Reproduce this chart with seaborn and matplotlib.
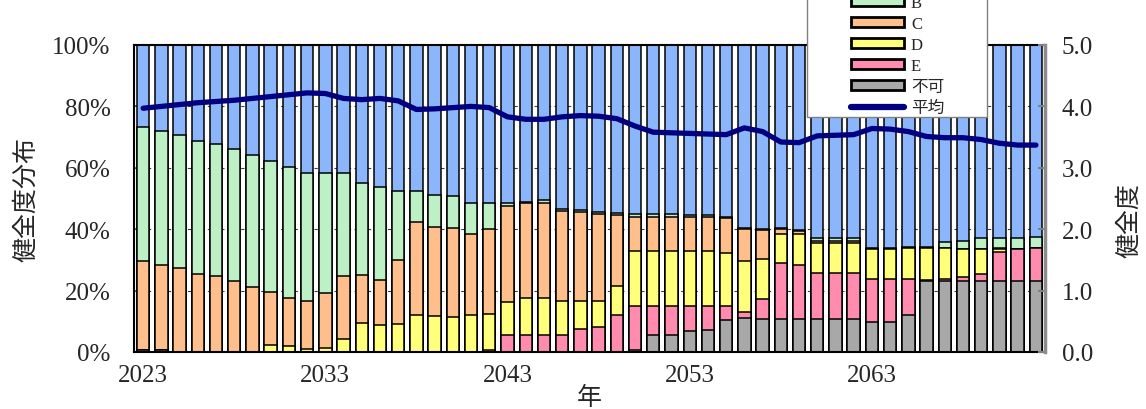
import numpy as np
import pandas as pd
import matplotlib
matplotlib.use("Agg")
import matplotlib.pyplot as plt
import seaborn as sns
from matplotlib.patches import Patch, Rectangle
from matplotlib.lines import Line2D

# ---- data: share of each soundness grade (%) per year, and the mean score ----
years = list(range(2023, 2073))

grade_a = [26.6, 28.0, 29.3, 31.3, 32.4, 34.0, 35.9, 37.8, 39.8, 41.6,
           41.6, 41.8, 44.8, 46.1, 47.5, 47.5, 48.7, 49.2, 51.4, 51.4,
           51.6, 51.3, 50.5, 53.4, 53.7, 54.4, 54.8, 55.2, 55.2, 55.2,
           55.4, 55.4, 56.0, 59.6, 60.0, 59.6, 60.3, 63.0, 63.0, 63.0,
           66.0, 66.0, 65.8, 65.8, 64.3, 63.9, 63.0, 62.8, 62.8, 62.5]
grade_b = [43.7, 43.5, 43.3, 43.3, 42.9, 42.8, 42.9, 42.6, 42.6, 41.9,
           39.1, 33.6, 30.2, 30.3, 22.5, 10.1, 10.5, 10.3, 10.3, 8.6,
           0.9, 0.3, 0.9, 0.6, 0.7, 0.6, 0.6, 0.8, 0.8, 0.8,
           0.6, 0.6, 0.5, 0.4, 0.4, 0.4, 0.4, 0.7, 0.7, 0.9,
           0.4, 0.4, 0.4, 0.4, 1.9, 2.4, 3.4, 3.4, 3.7, 3.5]
grade_c = [29.2, 28.0, 27.4, 25.4, 24.7, 23.2, 21.2, 17.3, 15.8, 15.4,
           18.1, 20.5, 15.4, 14.7, 20.8, 30.2, 29.2, 29.2, 26.3, 27.7,
           31.2, 30.8, 31.0, 29.5, 29.1, 28.5, 23.1, 11.0, 11.0, 11.0,
           11.0, 11.0, 11.3, 10.4, 9.2, 1.7, 1.0, 0.8, 0.8, 0.6,
           0.0, 0.0, 0.0, 0.0, 0.0, 0.0, 0.0, 0.4, 0.0, 0.0]
grade_d = [0.0, 0.0, 0.0, 0.0, 0.0, 0.0, 0.0, 2.3, 1.8, 1.1,
           1.2, 4.1, 9.6, 8.9, 9.2, 12.2, 11.6, 11.3, 12.0, 11.8,
           10.6, 11.9, 11.9, 10.8, 8.9, 8.5, 9.5, 18.1, 18.1, 18.1,
           18.1, 18.1, 17.3, 16.6, 13.2, 9.2, 9.8, 9.7, 9.7, 9.7,
           9.7, 9.7, 9.9, 10.2, 10.0, 9.3, 8.1, 0.9, 0.0, 0.0]
grade_e = [0.0, 0.0, 0.0, 0.0, 0.0, 0.0, 0.0, 0.0, 0.0, 0.0,
           0.0, 0.0, 0.0, 0.0, 0.0, 0.0, 0.0, 0.0, 0.0, 0.5,
           5.7, 5.7, 5.7, 5.7, 7.6, 8.0, 12.0, 14.1, 9.2, 9.2,
           8.2, 7.8, 4.4, 2.0, 6.3, 18.2, 17.6, 14.9, 14.9, 14.9,
           14.1, 14.1, 11.7, 0.6, 0.8, 1.3, 2.5, 9.5, 10.5, 11.0]
grade_fail = [0.5, 0.5, 0.0, 0.0, 0.0, 0.0, 0.0, 0.0, 0.0, 0.0,
              0.0, 0.0, 0.0, 0.0, 0.0, 0.0, 0.0, 0.0, 0.0, 0.0,
              0.0, 0.0, 0.0, 0.0, 0.0, 0.0, 0.0, 0.8, 5.7, 5.7,
              6.7, 7.1, 10.5, 11.0, 10.9, 10.9, 10.9, 10.9, 10.9, 10.9,
              9.8, 9.8, 12.2, 23.0, 23.0, 23.0, 23.0, 23.0, 23.0, 23.0]
mean_score = [3.97, 4.00, 4.03, 4.06, 4.08, 4.10, 4.13, 4.16, 4.19, 4.22,
              4.21, 4.13, 4.11, 4.13, 4.09, 3.95, 3.96, 3.98, 4.00, 3.98,
              3.83, 3.79, 3.79, 3.83, 3.85, 3.84, 3.80, 3.68, 3.58, 3.57,
              3.56, 3.55, 3.54, 3.65, 3.59, 3.42, 3.41, 3.52, 3.53, 3.54,
              3.64, 3.63, 3.59, 3.51, 3.49, 3.49, 3.46, 3.40, 3.37, 3.37]

grade_names = ["A", "B", "C", "D", "E", "不可"]
grade_values = [grade_a, grade_b, grade_c, grade_d, grade_e, grade_fail]
grade_colors = ["#8cb6fb", "#bdf0c4", "#ffbf8c", "#ffff7c", "#ff8cae", "#a8a8a8"]
mean_label = "平均"
mean_color = "#000080"

W, H = 1146, 410

sns.set_theme(style="white")
plt.rcParams["font.family"] = ["Liberation Serif", "Noto Sans CJK JP"]
plt.rcParams["axes.unicode_minus"] = False

fig = plt.figure(figsize=(W / 100, H / 100), dpi=100)
ax = fig.add_axes([134 / W, 57 / H, 911 / W, 307 / H])

# stacked bars: draw cumulative totals from the top grade down
year_labels = [str(y) for y in years]
cum = np.zeros(len(years))
cum_tops = []
for vals in reversed(grade_values):          # bottom (不可) upward
    cum = cum + np.asarray(vals, dtype=float)
    cum_tops.append(cum.copy())
cum_tops = cum_tops[::-1]                    # align with grade_names order

for name, top, color in zip(grade_names, cum_tops, grade_colors):
    df = pd.DataFrame({"year": year_labels, "share": top})
    sns.barplot(data=df, x="year", y="share", color=color, saturation=1,
                width=0.68, edgecolor="black", linewidth=1.1,
                errorbar=None, ax=ax, zorder=2)

ax.set_xlim(-0.5, len(years) - 0.5)
ax.set_ylim(0, 100)
ax.set_yticks(np.arange(0, 101, 20))
ax.set_yticklabels([f"{v}%" for v in range(0, 101, 20)])
ax.yaxis.grid(True, linestyle=(0, (3, 3)), color="#404040", linewidth=0.8, zorder=0)
ax.set_axisbelow(True)

label_pos = [0, 10, 20, 30, 40]
ax.set_xticks(label_pos)
ax.set_xticklabels([year_labels[i] for i in label_pos])
ax.set_xticks(np.arange(4.5, len(years) - 1, 5), minor=True)
ax.tick_params(axis="x", which="major", length=0, pad=9, labelsize=18)
ax.tick_params(axis="x", which="minor", direction="in", length=5,
               color="#606060", width=1)
ax.tick_params(axis="y", direction="in", length=4, pad=17, labelsize=18,
               color="#606060")

ax.set_xlabel("年", fontsize=18, family=["Noto Sans CJK JP"])
ax.xaxis.set_label_coords(0.5, -0.104)
ax.set_ylabel("健全度分布", fontsize=18, family=["Noto Sans CJK JP"])
ax.yaxis.set_label_coords(-0.104, 0.5)

for side in ["left", "top", "bottom"]:
    ax.spines[side].set_color("black")
    ax.spines[side].set_linewidth(1.5)
ax.spines["right"].set_visible(False)

# mean soundness score on the secondary axis
ax2 = ax.twinx()
sns.lineplot(x=np.arange(len(years)), y=mean_score, ax=ax2, color=mean_color,
             linewidth=3.8, solid_capstyle="round", solid_joinstyle="round",
             zorder=5)
ax2.set_ylim(0, 5)
ax2.set_yticks(np.arange(0, 5.01, 1.0))
ax2.set_yticklabels([f"{v:.1f}" for v in np.arange(0, 5.01, 1.0)])
ax2.tick_params(axis="y", direction="in", length=5, pad=12, labelsize=18,
                color="#808080", width=1.5)
ax2.set_ylabel("健全度", fontsize=18, family=["Noto Sans CJK JP"], rotation=90)
ax2.yaxis.set_label_coords(1.078, 0.43)
for side in ["left", "top", "bottom"]:
    ax2.spines[side].set_visible(False)
ax2.spines["right"].set_color("#8c8c8c")
ax2.spines["right"].set_linewidth(2.5)
ax2.set_xlim(-0.5, len(years) - 0.5)

# legend box (extends past the top edge of the figure)
box = Rectangle((807 / W, 1 - 118 / H), 180 / W, 200 / H,
                transform=fig.transFigure, facecolor="white",
                edgecolor="#808080", linewidth=1.0, zorder=3)
fig.patches.append(box)

handles = [Patch(facecolor=c, edgecolor="black", linewidth=2.0)
           for c in grade_colors]
handles.append(Line2D([0], [0], color=mean_color, linewidth=4.5,
                      solid_capstyle="round"))
labels = grade_names + [mean_label]
leg = fig.legend(handles, labels, loc="lower left",
                 bbox_to_anchor=(851 / W, 1 - 117 / H),
                 frameon=False, fontsize=12, handlelength=3.2,
                 handleheight=0.55, labelspacing=0.30, handletextpad=0.4,
                 borderpad=0.0, borderaxespad=0.0)
leg.set_zorder(6)

fig.savefig("out.png", dpi=100)
